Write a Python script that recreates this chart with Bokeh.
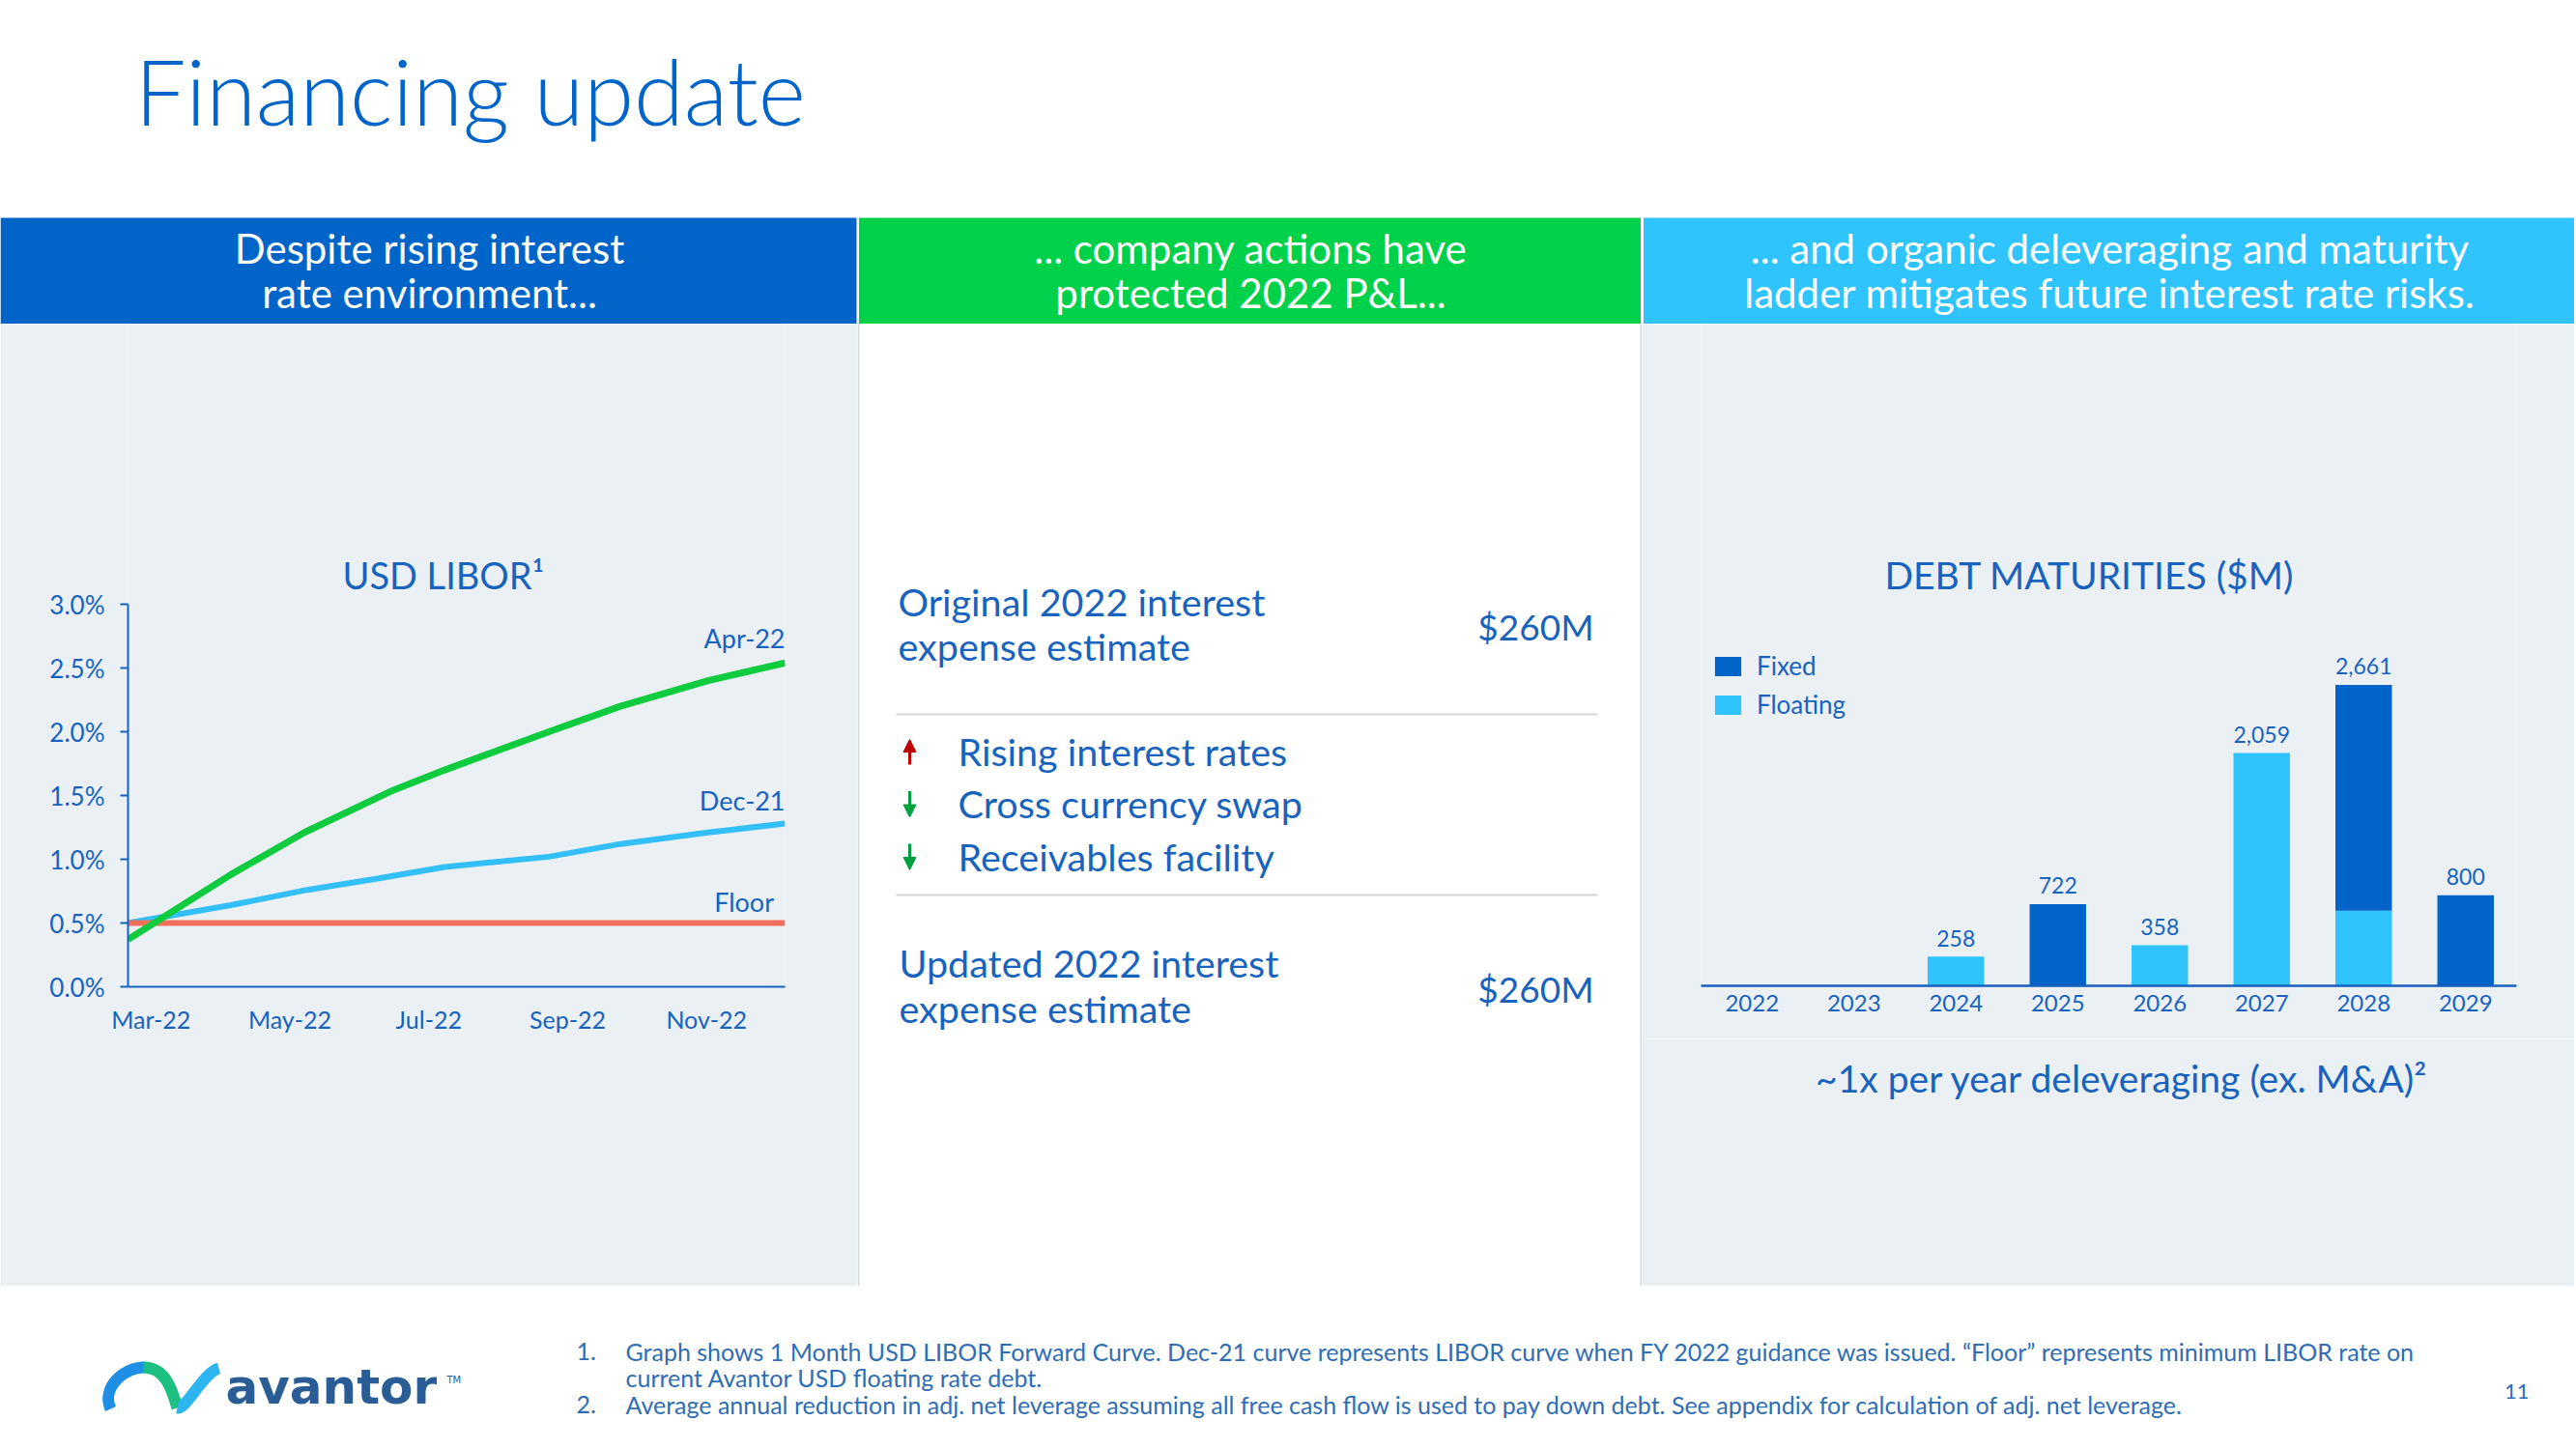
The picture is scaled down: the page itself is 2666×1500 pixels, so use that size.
from bokeh.plotting import figure
from bokeh.layouts import column, row
from bokeh.models import (Range1d, FactorRange, Label, Legend, LegendItem, FixedTicker,
                          PrintfTickFormatter, Arrow, NormalHead, ColumnDataSource)
from bokeh.core.properties import value
from bokeh.embed import file_html
from bokeh.resources import INLINE

FONT = "Lato"
LIGHT = "Lato Light"
TITLE_BLUE = "#0064C8"
TEXT = "#1763BE"
AXIS = "#1660BE"
PANEL = "#EBF0F5"
HDR_BLUE = "#0064C8"
HDR_GREEN = "#00D14B"
HDR_LIGHT = "#30C4FE"
FOOT = "#2F6DB5"
W = 2664

# ---------------- data ----------------
# USD LIBOR forward curves (%), x = months after Mar-22
apr22_month = [-0.33, 1.15, 2.21, 3.44, 4.23, 5.73, 6.76, 8.02, 9.13]
apr22_rate = [0.37, 0.88, 1.21, 1.53, 1.70, 2.00, 2.20, 2.40, 2.54]
dec21_month = [-0.33, 1.15, 2.25, 3.28, 4.23, 5.73, 6.76, 8.02, 9.13]
dec21_rate = [0.50, 0.64, 0.76, 0.85, 0.94, 1.02, 1.12, 1.21, 1.28]
floor_month = [-0.33, 9.13]
floor_rate = [0.50, 0.50]
libor_tick_months = [0, 2, 4, 6, 8]
libor_tick_labels = ["Mar-22", "May-22", "Jul-22", "Sep-22", "Nov-22"]
libor_y_ticks = [0.0, 0.5, 1.0, 1.5, 2.0, 2.5, 3.0]

# Debt maturities ($M)
years = ["2022", "2023", "2024", "2025", "2026", "2027", "2028", "2029"]
fixed = [0, 0, 0, 722, 0, 0, 1996, 800]
floating = [0, 0, 258, 0, 358, 2059, 665, 0]

# Middle panel
original_estimate = "$260M"
updated_estimate = "$260M"
drivers = ["Rising interest rates", "Cross currency swap", "Receivables facility"]
driver_dirs = ["up", "down", "down"]

headers = [
    ["Despite rising interest", "rate environment..."],
    ["... company actions have", "protected 2022 P&L..."],
    ["... and organic deleveraging and maturity", "ladder mitigates future interest rate risks."],
]
footnotes = [
    ("1.", "Graph shows 1 Month USD LIBOR Forward Curve. Dec-21 curve represents LIBOR curve when FY 2022 guidance was issued. \u201cFloor\u201d represents minimum LIBOR rate on"),
    ("", "current Avantor USD floating rate debt."),
    ("2.", "Average annual reduction in adj. net leverage assuming all free cash flow is used to pay down debt. See appendix for calculation of adj. net leverage."),
]


def lab(p, x, y, s, size, color=TEXT, align="left", font=FONT, style="normal", pix=True):
    # pix=True: y is the text baseline in page pixels (downward axis); placed by its middle
    yy = y - 0.36 * size if pix else y
    p.add_layout(Label(x=x, y=yy, text=s, text_font=font, text_font_size=f"{size}px",
                       text_color=color, text_align=align, text_baseline="middle",
                       text_font_style=style))


def base_fig(bg, **kw):
    p = figure(output_backend="svg", toolbar_location=None, title=None, **kw)
    p.frame_align = False
    p.grid.visible = False
    p.outline_line_color = None
    p.border_fill_color = bg
    p.background_fill_color = bg
    return p


def pixfig(x0, x1, y0, y1, bg="white"):
    return base_fig(bg, width=int(round(x1 - x0)), height=int(round(y1 - y0)),
                    x_range=Range1d(x0, x1), y_range=Range1d(y1, y0),
                    x_axis_location=None, y_axis_location=None,
                    min_border=0, min_border_left=0, min_border_right=0,
                    min_border_top=0, min_border_bottom=0)


# ---------------- title ----------------
title_fig = pixfig(0, W, 0, 224)
lab(title_fig, 139, 127, "Financing update", 94, TITLE_BLUE, font=LIGHT)

# ---------------- headers ----------------
hdr = pixfig(0, W, 224, 335)
hdr.quad(left=[0, 888.5, 1700.5], right=[886, 1697.5, W], top=[225] * 3, bottom=[335] * 3,
         fill_color=[HDR_BLUE, HDR_GREEN, HDR_LIGHT], line_color=None)
for cx, lines in zip([444, 1294, 2183], headers):
    lab(hdr, cx, 272, lines[0], 42, "white", align="center")
    lab(hdr, cx, 318, lines[1], 42, "white", align="center")

# ---------------- left: USD LIBOR ----------------
left = base_fig(PANEL, width=887, height=996, x_range=Range1d(-0.33, 9.13), y_range=Range1d(0, 5.197),
                min_border_left=132, min_border_right=75, min_border_top=0, min_border_bottom=310)
ax = left.xaxis[0]
ax.ticker = FixedTicker(ticks=libor_tick_months)
ax.major_label_overrides = dict(zip(libor_tick_months, libor_tick_labels))
ax.major_tick_line_color = None
ax.minor_tick_line_color = None
ax.major_tick_out = 0
ax.major_tick_in = 0
ax.axis_line_color = AXIS
ax.axis_line_width = 2
ax.major_label_text_font = FONT
ax.major_label_text_font_size = "25px"
ax.major_label_text_color = TEXT
ax.major_label_standoff = 18
ay = left.yaxis[0]
ay.bounds = (0, 3.0)
ay.ticker = FixedTicker(ticks=libor_y_ticks)
ay.formatter = PrintfTickFormatter(format="%.1f%%")
ay.minor_tick_line_color = None
ay.major_tick_out = 8
ay.major_tick_in = 0
ay.major_tick_line_color = AXIS
ay.major_tick_line_width = 2
ay.axis_line_color = AXIS
ay.axis_line_width = 2
ay.major_label_text_font = FONT
ay.major_label_text_font_size = "26px"
ay.major_label_text_color = TEXT
ay.major_label_standoff = 16

left.line(dec21_month, dec21_rate, line_color="#33BFFA", line_width=6)
left.line(floor_month, floor_rate, line_color="#F2705A", line_width=6)
left.line(apr22_month, apr22_rate, line_color="#0FCB3E", line_width=7)
lab(left, 9.13, 2.736, "Apr-22", 27, align="right", pix=False)
lab(left, 9.13, 1.464, "Dec-21", 27, align="right", pix=False)
lab(left, 8.97, 0.664, "Floor", 27, align="right", pix=False)
lab(left, 4.21, 3.230, "USD LIBOR\u00b9", 38, align="center", pix=False)

# ---------------- middle ----------------
mid = pixfig(887, 1699, 335, 1331)
mid.segment(x0=[888, 1698], x1=[888, 1698], y0=[335, 335], y1=[1331, 1331],
            line_color="#D5D9DE", line_width=2)
mid.segment(x0=[927, 927], x1=[1653, 1653], y0=[739, 926], y1=[739, 926],
            line_color="#D6D6D6", line_width=2)
lab(mid, 929, 636, "Original 2022 interest", 39.5)
lab(mid, 929, 682, "expense estimate", 39.5)
lab(mid, 1649, 661, original_estimate, 37, align="right")
for i, (txt, d) in enumerate(zip(drivers, driver_dirs)):
    base = 791 + i * 54.5
    lab(mid, 991, base, txt, 39.5)
    c = "#C00000" if d == "up" else "#00A040"
    ys, ye = (base, base - 26) if d == "up" else (base - 27, base)
    mid.add_layout(Arrow(end=NormalHead(size=13, fill_color=c, line_color=c),
                         x_start=941, y_start=ys, x_end=941, y_end=ye,
                         line_color=c, line_width=3))
lab(mid, 930, 1010, "Updated 2022 interest", 39.5)
lab(mid, 930, 1057, "expense estimate", 39.5)
lab(mid, 1649, 1036, updated_estimate, 37, align="right")

# ---------------- right: debt maturities ----------------
src = ColumnDataSource(dict(years=years, fixed=fixed, floating=floating))
right = base_fig(PANEL, width=965, height=740, x_range=FactorRange(factors=years),
                 y_range=Range1d(0, 5850), y_axis_location=None,
                 min_border_left=61, min_border_right=60, min_border_top=0, min_border_bottom=55)
rs = right.vbar_stack(["floating", "fixed"], x="years", width=0.554, source=src,
                      fill_color=["#30C4FE", "#0064C8"], line_color=None)
bx = right.xaxis[0]
bx.major_tick_line_color = None
bx.minor_tick_line_color = None
bx.major_tick_out = 0
bx.major_tick_in = 0
bx.axis_line_color = AXIS
bx.axis_line_width = 2.5
bx.major_label_text_font = FONT
bx.major_label_text_font_size = "24px"
bx.major_label_text_color = TEXT
bx.major_label_standoff = 9

totals = [a + b for a, b in zip(fixed, floating)]
nz = [i for i, t in enumerate(totals) if t > 0]
lsrc = ColumnDataSource(dict(x=[years[i] for i in nz], y=[totals[i] for i in nz],
                             t=[f"{totals[i]:,}" for i in nz]))
right.text(x="x", y="y", text="t", source=lsrc, text_align="center", text_baseline="middle",
           y_offset=-19, text_font=value(FONT), text_font_size="23px", text_color=TEXT)

legend = Legend(items=[LegendItem(label="Fixed", renderers=[rs[1]]),
                       LegendItem(label="Floating", renderers=[rs[0]])],
                location=(11, 275), margin=0, padding=0, glyph_width=34, glyph_height=25,
                label_height=31, spacing=8, label_standoff=13, border_line_color=None,
                background_fill_alpha=0, label_text_font=FONT, label_text_font_size="26px",
                label_text_color=TEXT)
right.add_layout(legend)
lab(right, 3.81, 3630, "DEBT MATURITIES ($M)", 39, align="center", pix=False)

right_bottom = pixfig(1699, W, 1075, 1331, PANEL)
lab(right_bottom, 2196, 1130, "~1x per year deleveraging (ex. M&A)\u00b2", 39, align="center")

# ---------------- footer ----------------
foot = pixfig(0, W, 1331, 1496)
foot.bezier(x0=[114], y0=[1458], x1=[150], y1=[1415], cx0=[104], cy0=[1436], cx1=[128], cy1=[1414],
            line_color="#1F8FE6", line_width=12)
foot.bezier(x0=[148], y0=[1415], x1=[183], y1=[1457], cx0=[170], cy0=[1415], cx1=[177], cy1=[1436],
            line_color="#1CC080", line_width=12)
foot.bezier(x0=[183], y0=[1457], x1=[226], y1=[1416], cx0=[192], cy0=[1459], cx1=[210], cy1=[1420],
            line_color="#2CB5F0", line_width=12)
lab(foot, 233, 1453, "avantor", 50, "#2A5D95", font="DejaVu Sans", style="bold")
lab(foot, 462, 1432, "TM", 10, "#2A5D95", font="DejaVu Sans")
for i, (num, line) in enumerate(footnotes):
    base = [1407, 1434, 1462][i]
    if num:
        lab(foot, 596, base, num, 25, FOOT)
    lab(foot, 647, base, line, 25, FOOT)
lab(foot, 2617, 1448, "11", 22, FOOT, align="right")

panels = row(left, mid, column(right, right_bottom, spacing=0), spacing=0)
layout = column(title_fig, hdr, panels, foot, spacing=0)
open("out.html", "w").write(file_html(layout, INLINE))
